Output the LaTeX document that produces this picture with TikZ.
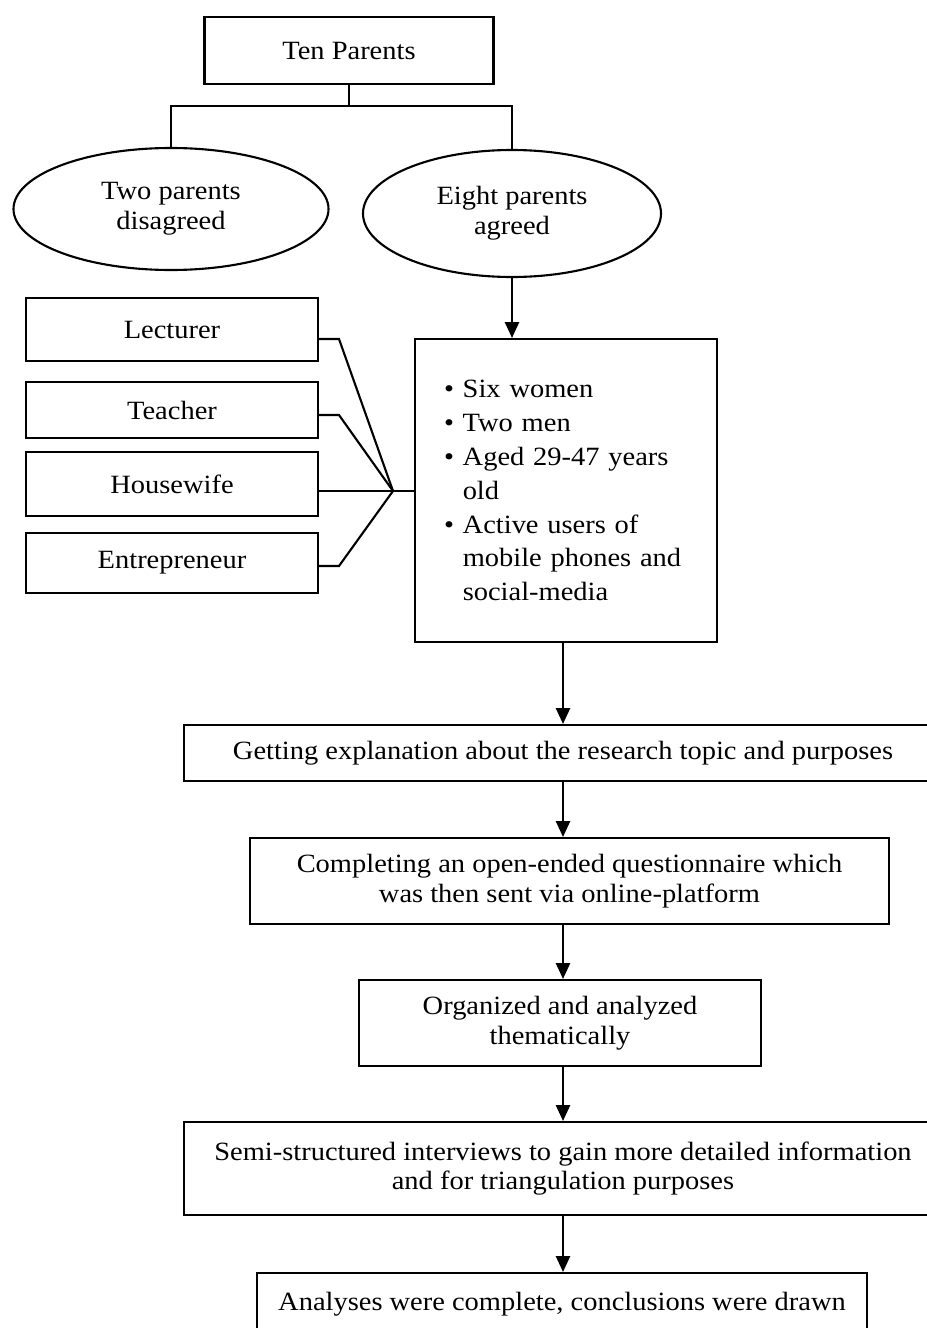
\documentclass[tikz,border=0pt]{standalone}
\usepackage{fontspec}
\setmainfont[FakeStretch=1.08]{Liberation Serif}
\usetikzlibrary{shapes.geometric,arrows.meta}

\begin{document}
\begin{tikzpicture}[font=\fontsize{15}{17}\selectfont,
  pbox/.style={draw,line width=1.2pt,inner sep=2pt,align=center},
  oval/.style={ellipse,draw,line width=1.2pt,inner sep=0pt,align=center},
  link/.style={line width=1.2pt},
  flow/.style={->,line width=1.2pt,>={Triangle[length=9pt,width=8pt]}}]
\useasboundingbox (0,0) rectangle (18.52,-26.56);
\path node (ten) at (6.98,-1.01) [pbox,minimum width=5.78cm,minimum height=1.34cm] {Ten Parents}
      node (dis) at (3.42,-4.18) [oval,minimum width=6.30cm,minimum height=2.44cm] {Two parents\\disagreed}
      node (agr) at (10.24,-4.27) [oval,minimum width=5.96cm,minimum height=2.54cm] {Eight parents\\agreed}
      node (lect) at (3.44,-6.59) [pbox,minimum width=5.84cm,minimum height=1.26cm] {Lecturer}
      node (teach) at (3.44,-8.20) [pbox,minimum width=5.84cm,minimum height=1.12cm] {Teacher}
      node (house) at (3.44,-9.68) [pbox,minimum width=5.84cm,minimum height=1.28cm] {Housewife}
      node (entre) at (3.44,-11.26) [pbox,minimum width=5.84cm,minimum height=1.20cm] {Entrepreneur}
      node (info) at (11.32,-9.81) [pbox,minimum height=6.06cm,align=left,inner xsep=0.58cm,
            text width=4.88cm,font=\fontsize{15}{19.3}\selectfont]
            {\textbullet\ Six women\\ \textbullet\ Two men\\ \textbullet\ Aged 29-47 years\\
             \phantom{\textbullet\ }old\\ \textbullet\ Active users of\\
             \phantom{\textbullet\ }mobile phones and\\ \phantom{\textbullet\ }social-media}
      node (get) at (11.26,-15.06) [pbox,minimum width=15.16cm,minimum height=1.12cm]
            {Getting explanation about the research topic and purposes}
      node (comp) at (11.39,-17.62) [pbox,minimum width=12.78cm,minimum height=1.72cm]
            {Completing an open-ended questionnaire which\\ was then sent via online-platform}
      node (org) at (11.20,-20.46) [pbox,minimum width=8.04cm,minimum height=1.72cm]
            {Organized and analyzed\\thematically}
      node (semi) at (11.26,-23.37) [pbox,minimum width=15.16cm,minimum height=1.86cm]
            {Semi-structured interviews to gain more detailed information\\and for triangulation purposes}
      node (ana) at (11.24,-26.08) [pbox,minimum width=12.20cm,minimum height=1.24cm]
            {Analyses were complete, conclusions were drawn};
\coordinate (split) at (6.98,-2.12);
\coordinate (junc) at (7.86,-9.82);
% split of the parents
\draw [link] (ten.south) -- (split);
\draw [link] (dis.north) |- (split) -| (agr.north);
% occupations joined to the group
\draw [link] (lect.east |- 0,-6.78) -- (6.78,-6.78) -- (junc);
\draw [link] (teach.east |- 0,-8.30) -- (6.78,-8.30) -- (junc);
\draw [link] (house.east |- junc) -- (junc);
\draw [link] (entre.east |- 0,-11.32) -- (6.78,-11.32) -- (junc);
\draw [link] (junc) -- (info.west |- junc);
% steps
\draw [flow] (agr.south) -- (agr.south |- info.north);
\draw [flow] (get.north |- info.south) -- (get.north);
\draw [flow] (get.south) -- (get.south |- comp.north);
\draw [flow] (get.south |- comp.south) -- (get.south |- org.north);
\draw [flow] (semi.north |- org.south) -- (semi.north);
\draw [flow] (semi.south) -- (semi.south |- ana.north);
\end{tikzpicture}
\end{document}
